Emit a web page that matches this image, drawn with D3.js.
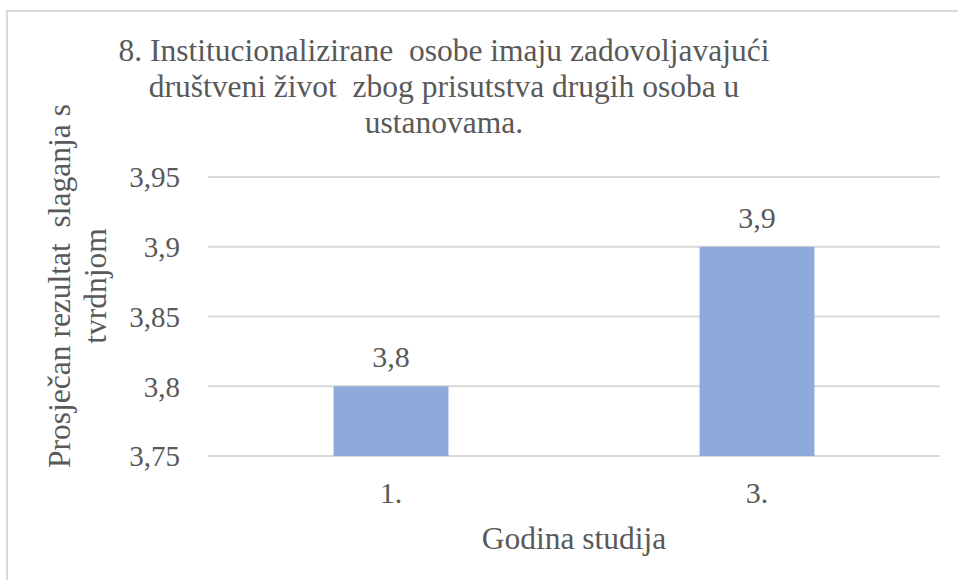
<!DOCTYPE html>
<html>
<head>
<meta charset="utf-8">
<script src="https://cdn.jsdelivr.net/npm/d3@7"></script>
<style>
  body { margin: 0; background: #fff; }
  svg text { font-family: "Liberation Serif", Tinos, "Times New Roman", Times, "Noto Serif", "DejaVu Serif"; fill: #595959; white-space: pre; }
</style>
</head>
<body>
<div id="chart"></div>
<script>
// Data
const categories = ["1.", "3."];
const values = [3.8, 3.9];
const yTicks = [3.75, 3.8, 3.85, 3.9, 3.95];
const titleLines = [
  "8. Institucionalizirane  osobe imaju zadovoljavajući",
  "društveni život  zbog prisutstva drugih osoba u",
  "ustanovama."
];
const yTitleLines = ["Prosječan rezultat  slaganja s", "tvrdnjom"];
const xTitle = "Godina studija";

// Dimensions
const width = 958;
const height = 580;
const plot = { left: 208, right: 940, top: 177, bottom: 456 };
const serif = '"Liberation Serif", Tinos, "Times New Roman", Times, "Noto Serif", "DejaVu Serif"';

const hr = d3.formatLocale({ decimal: ",", thousands: ".", grouping: [3], currency: ["", " kn"] });
const fmt = hr.format(".2~f");

const svg = d3.select("#chart")
  .append("svg")
  .attr("width", width)
  .attr("height", height)
  .attr("font-family", serif);

// outer border (runs off the right and bottom edges)
svg.append("rect")
  .attr("x", 7)
  .attr("y", 11)
  .attr("width", 980)
  .attr("height", 600)
  .attr("fill", "none")
  .attr("stroke", "#d9d9d9")
  .attr("stroke-width", 2);

// Scales
const xScale = d3.scaleBand()
  .domain(categories)
  .range([plot.left, plot.right])
  .paddingInner(0.686)
  .paddingOuter(0.343);

const yScale = d3.scaleLinear()
  .domain([3.75, 3.95])
  .range([plot.bottom, plot.top]);

// Gridlines
svg.append("g")
  .selectAll("line")
  .data(yTicks)
  .join("line")
  .attr("x1", plot.left)
  .attr("x2", plot.right)
  .attr("y1", (d) => yScale(d))
  .attr("y2", (d) => yScale(d))
  .attr("stroke", "#d9d9d9")
  .attr("stroke-width", 2);

// Bars
svg.append("g")
  .selectAll("rect")
  .data(values)
  .join("rect")
  .attr("x", (d, i) => xScale(categories[i]))
  .attr("width", xScale.bandwidth())
  .attr("y", (d) => yScale(d))
  .attr("height", (d) => yScale(3.75) - yScale(d))
  .attr("fill", "#8eaadb");

// Data labels
svg.append("g")
  .selectAll("text")
  .data(values)
  .join("text")
  .attr("x", (d, i) => xScale(categories[i]) + xScale.bandwidth() / 2)
  .attr("y", (d) => yScale(d) - 19)
  .attr("text-anchor", "middle")
  .attr("font-size", 30)
  .text((d) => fmt(d));

// Axes
const yAxis = d3.axisLeft(yScale)
  .tickValues(yTicks)
  .tickFormat(fmt)
  .tickSize(0)
  .tickPadding(28);

const yAxisGroup = svg.append("g")
  .attr("transform", `translate(${plot.left},0)`)
  .call(yAxis)
  .attr("font-family", serif);
yAxisGroup.select(".domain").remove();
yAxisGroup.selectAll("text")
  .attr("font-size", 29)
  .attr("fill", null)
  .attr("dy", "0.34em");

const xAxis = d3.axisBottom(xScale)
  .tickSize(0)
  .tickPadding(26);

const xAxisGroup = svg.append("g")
  .attr("transform", `translate(0,${plot.bottom})`)
  .call(xAxis)
  .attr("font-family", serif);
xAxisGroup.select(".domain").remove();
xAxisGroup.selectAll("text")
  .attr("font-size", 30)
  .attr("fill", null);

// Titles
svg.append("text")
  .attr("x", 444)
  .attr("text-anchor", "middle")
  .attr("font-size", 31.5)
  .selectAll("tspan")
  .data(titleLines)
  .join("tspan")
  .attr("x", 444)
  .attr("y", (d, i) => 61 + i * 36)
  .text((d) => d);

svg.append("text")
  .attr("x", (plot.left + plot.right) / 2)
  .attr("y", 549)
  .attr("text-anchor", "middle")
  .attr("font-size", 31.5)
  .text(xTitle);

svg.append("text")
  .attr("transform", "translate(0,286) rotate(-90)")
  .attr("text-anchor", "middle")
  .attr("font-size", 31.5)
  .selectAll("tspan")
  .data(yTitleLines)
  .join("tspan")
  .attr("x", 0)
  .attr("y", (d, i) => 70 + i * 36)
  .text((d) => d);
</script>
</body>
</html>
